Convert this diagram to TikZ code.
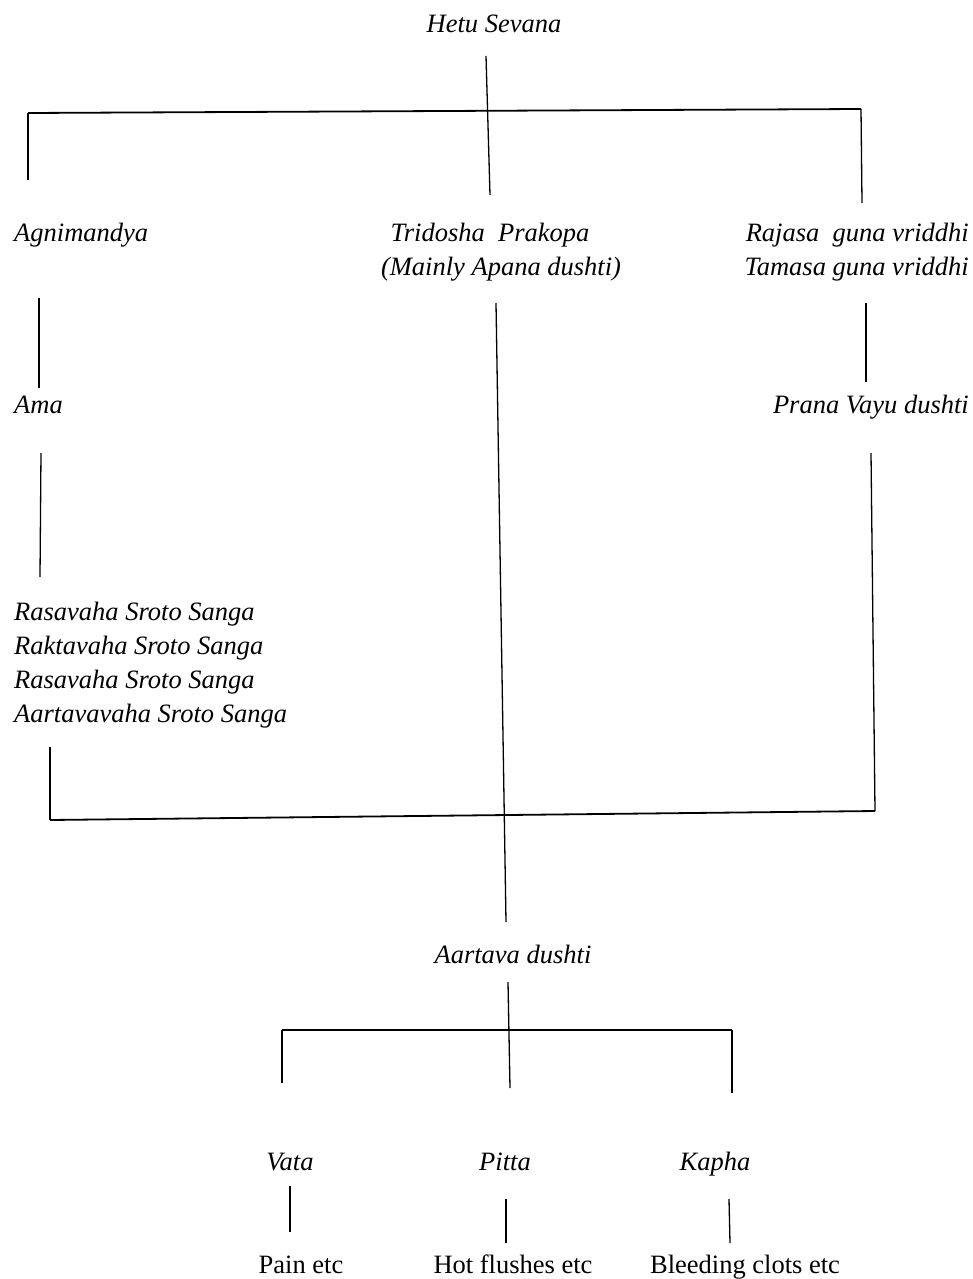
\documentclass[tikz,border=0pt]{standalone}
\usepackage{fontspec}
\setmainfont{Liberation Serif}
\begin{document}
\begin{tikzpicture}[x=1pt,y=-1pt,
  lbl/.style={font=\fontsize{26.5}{34}\selectfont\itshape, inner sep=0pt, anchor=base},
  plain/.style={font=\fontsize{26.5}{34}\selectfont, inner sep=0pt, anchor=base},
  conn/.style={line width=1.3pt, black},
  bar/.style={line width=1.8pt, black}]
\useasboundingbox (0,0) rectangle (973,1279);
\fill[white] (0,0) rectangle (973,1279);

% texts
\node[lbl] (hetu) at (494,33) {Hetu Sevana};
\node[lbl, anchor=base west] (agni) at (14,241) {Agnimandya};
\node[lbl] (tri1) at (490,241) {Tridosha\ \ Prakopa};
\node[lbl] (tri2) at (501,275) {(Mainly Apana dushti)};
\node[lbl, anchor=base east] (raj1) at (969,241) {Rajasa\ \ guna vriddhi};
\node[lbl, anchor=base east] (raj2) at (969,275) {Tamasa guna vriddhi};
\node[lbl, anchor=base west] (ama) at (14,413) {Ama};
\node[lbl, anchor=base east] (prana) at (969,413) {Prana Vayu dushti};
\node[lbl, anchor=base west] (s1) at (14,620) {Rasavaha Sroto Sanga};
\node[lbl, anchor=base west] (s2) at (14,654) {Raktavaha Sroto Sanga};
\node[lbl, anchor=base west] (s3) at (14,688) {Rasavaha Sroto Sanga};
\node[lbl, anchor=base west] (s4) at (14,722) {Aartavavaha Sroto Sanga};
\node[lbl] (aart) at (513,963) {Aartava dushti};
\node[lbl] (vata) at (290,1170) {Vata};
\node[lbl] (pitta) at (505,1170) {Pitta};
\node[lbl] (kapha) at (715,1170) {Kapha};
\node[plain] (pain) at (301,1273) {Pain etc};
\node[plain] (hot) at (513,1273) {Hot flushes etc};
\node[plain] (bleed) at (745,1273) {Bleeding clots etc};

% connector end points
\coordinate (hT) at (486,56);
\coordinate (hB) at (490,195);
\coordinate (barL) at (28,113);
\coordinate (barR) at (861,109);
\coordinate (agT) at (28,180);
\coordinate (rjT) at (862,203);
\coordinate (agA) at (39,298);
\coordinate (agB) at (39,388);
\coordinate (amA) at (41,453);
\coordinate (amB) at (40,577);
\coordinate (trA) at (496,303);
\coordinate (trB) at (506,922);
\coordinate (rjA) at (866,303);
\coordinate (rjB) at (866,382);
\coordinate (pvA) at (871,453);
\coordinate (pvB) at (875,811);
\coordinate (sgA) at (50,747);
\coordinate (sgB) at (50,820);
\coordinate (adA) at (508,982);
\coordinate (adB) at (510,1088);
\coordinate (b2L) at (282,1030);
\coordinate (b2R) at (732,1030);
\coordinate (vtT) at (282,1083);
\coordinate (kpT) at (732,1093);
\coordinate (vA) at (290,1186);
\coordinate (vB) at (290,1232);
\coordinate (pA) at (506,1199);
\coordinate (pB) at (506,1243);
\coordinate (kA) at (729,1199);
\coordinate (kB) at (730,1243);

% connectors
\draw[conn] (hT) -- (hB);
\draw[conn] (agT) -- (barL);
\draw[bar] (barL) -- (barR);
\draw[conn] (barR) -- (rjT);
\draw[conn] (agA) -- (agB);
\draw[conn] (amA) -- (amB);
\draw[conn] (trA) -- (trB);
\draw[conn] (rjA) -- (rjB);
\draw[conn] (pvA) -- (pvB);
\draw[conn] (sgA) -- (sgB);
\draw[bar] (sgB) -- (pvB);
\draw[conn] (adA) -- (adB);
\draw[conn] (vtT) -- (b2L);
\draw[bar] (b2L) -- (b2R);
\draw[conn] (b2R) -- (kpT);
\draw[conn] (vA) -- (vB);
\draw[conn] (pA) -- (pB);
\draw[conn] (kA) -- (kB);
\end{tikzpicture}
\end{document}
